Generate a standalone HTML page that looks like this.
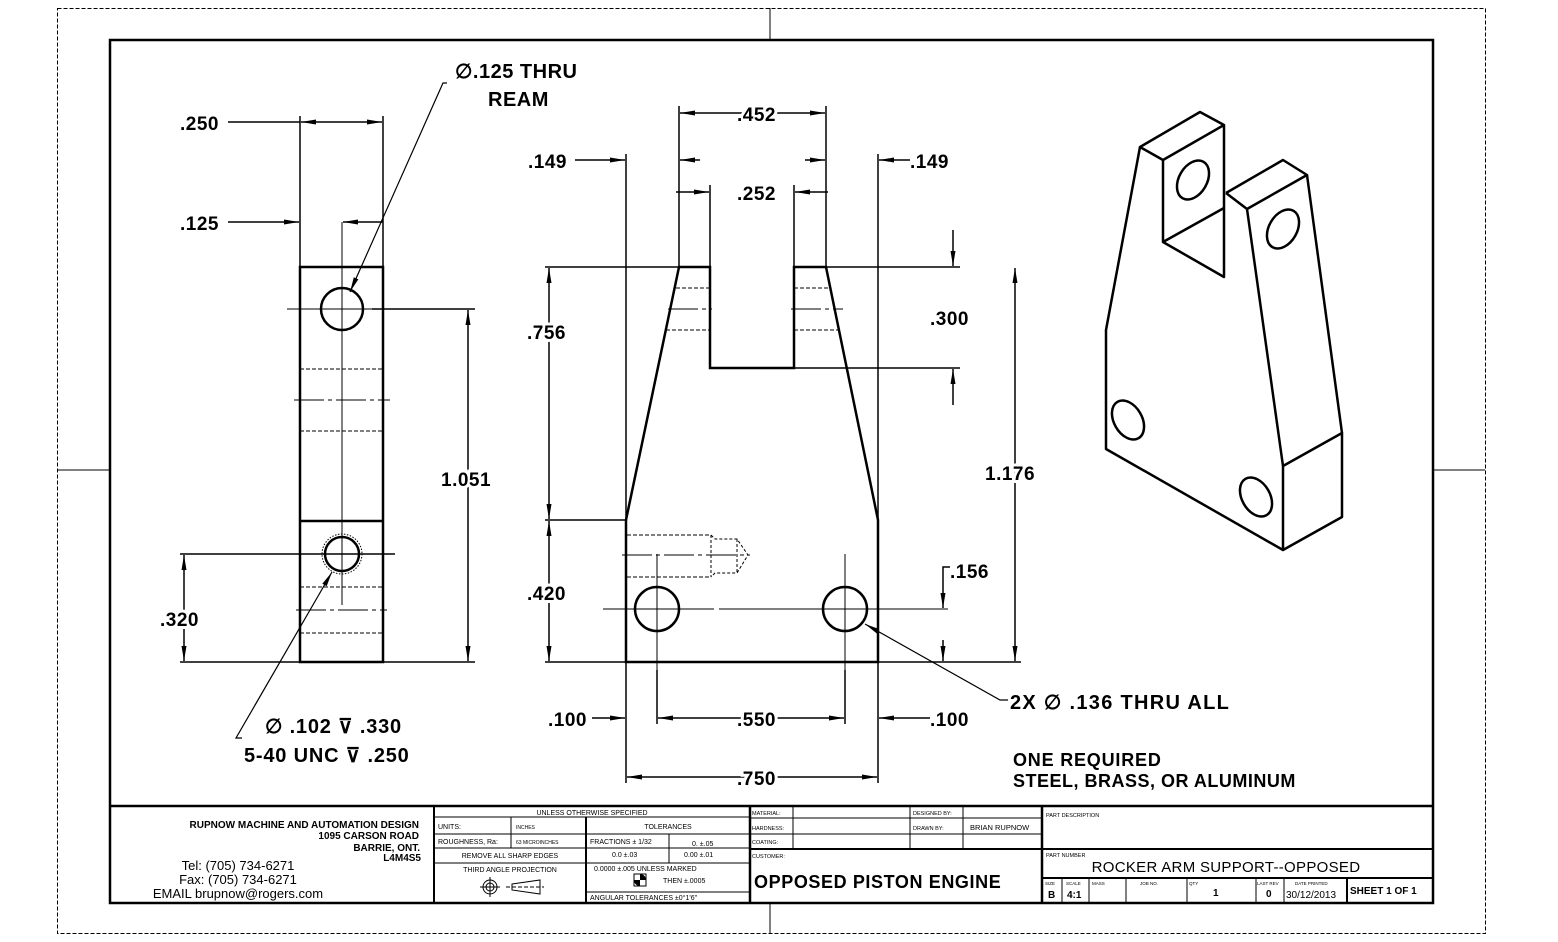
<!DOCTYPE html>
<html><head><meta charset="utf-8"><style>
html,body{margin:0;padding:0;background:#fff;}
svg{display:block;}
text{font-family:"Liberation Sans",sans-serif;fill:#000;}
.d{font-size:19px;font-weight:bold;stroke:#fff;stroke-width:6px;paint-order:stroke;letter-spacing:0.5px;}
.s{font-size:6px;}
</style></head><body>
<svg width="1558" height="942" viewBox="0 0 1558 942" xmlns="http://www.w3.org/2000/svg">
<defs>
<marker id="a" markerWidth="16" markerHeight="8" refX="15" refY="4" orient="auto-start-reverse" markerUnits="userSpaceOnUse">
<path d="M0,1.5 L15,4 L0,6.5 Z" fill="#000"/>
</marker>
</defs>
<rect width="1558" height="942" fill="#fff"/>
<!-- outer border -->
<rect x="57.5" y="8.5" width="1428" height="925" fill="none" stroke="#000" stroke-width="1" stroke-dasharray="4,2"/>
<g stroke="#000" stroke-width="1">
<line x1="770" y1="8" x2="770" y2="40"/><line x1="770" y1="903" x2="770" y2="933"/>
<line x1="57" y1="470" x2="110" y2="470"/><line x1="1433" y1="470" x2="1485" y2="470"/>
</g>
<rect x="110" y="40" width="1323" height="863" fill="none" stroke="#000" stroke-width="2.5"/>

<!-- LEFT VIEW -->
<g stroke="#000" fill="none">
<rect x="300" y="267" width="83" height="395" stroke-width="2.5"/>
<line x1="300" y1="521" x2="383" y2="521" stroke-width="2.5"/>
<circle cx="342" cy="309" r="21" stroke-width="2.5"/>
<circle cx="342" cy="554" r="17" stroke-width="2.5"/>
<circle cx="342" cy="554" r="20" stroke-width="1" stroke-dasharray="1.5,1.5"/>
<g stroke-width="1">
<line x1="342" y1="222" x2="342" y2="605"/>
<line x1="287" y1="309" x2="396" y2="309"/>
<line x1="300" y1="369" x2="383" y2="369" stroke-dasharray="4,2"/>
<line x1="294" y1="400" x2="390" y2="400" stroke-dasharray="30,4,4,4"/>
<line x1="300" y1="431" x2="383" y2="431" stroke-dasharray="4,2"/>
<line x1="300" y1="587" x2="383" y2="587" stroke-dasharray="4,2"/>
<line x1="296" y1="610" x2="387" y2="610" stroke-dasharray="30,4,4,4"/>
<line x1="300" y1="633" x2="383" y2="633" stroke-dasharray="4,2"/>
</g>
<g stroke-width="1.5">
<line x1="300" y1="116" x2="300" y2="267"/>
<line x1="383" y1="116" x2="383" y2="267"/>
<line x1="228" y1="122" x2="300" y2="122"/>
<line x1="301" y1="122" x2="382" y2="122" marker-start="url(#a)" marker-end="url(#a)"/>
<line x1="228" y1="222" x2="299" y2="222" marker-end="url(#a)"/>
<line x1="383" y1="222" x2="343" y2="222" marker-end="url(#a)"/>
<line x1="372" y1="309" x2="475" y2="309"/>
<line x1="383" y1="662" x2="475" y2="662"/>
<line x1="468" y1="310" x2="468" y2="661" marker-start="url(#a)" marker-end="url(#a)"/>
<line x1="180" y1="554" x2="395" y2="554"/>
<line x1="180" y1="662" x2="300" y2="662"/>
<line x1="184" y1="555" x2="184" y2="661" marker-start="url(#a)" marker-end="url(#a)"/>
<polyline points="447,83 443,83 350,292" stroke-width="1.2" marker-end="url(#a)"/>
<polyline points="242,738 236,738 332,572" stroke-width="1.2" marker-end="url(#a)"/>
</g>
</g>
<text class="d" x="180" y="130">.250</text>
<text class="d" x="180" y="230">.125</text>
<text class="d" x="441" y="486">1.051</text>
<text class="d" x="160" y="626">.320</text>
<text x="455" y="78" style="font-size:20px;font-weight:bold;letter-spacing:0.5px">∅.125 THRU</text>
<text x="488" y="106" style="font-size:20px;font-weight:bold;letter-spacing:0.5px">REAM</text>
<text x="265" y="733" style="font-size:20px;font-weight:bold;letter-spacing:0.8px">∅ .102 ⊽ .330</text>
<text x="244" y="762" style="font-size:20px;font-weight:bold;letter-spacing:0.8px">5-40 UNC ⊽ .250</text>

<!-- FRONT VIEW -->
<g stroke="#000" fill="none">
<polyline points="626,520 626,662 878,662 878,520 826,267 794,267 794,368 710,368 710,267 679,267 626,520" stroke-width="2.5"/>
<circle cx="657" cy="609" r="22" stroke-width="2.5"/>
<circle cx="845" cy="609" r="22" stroke-width="2.5"/>
<g stroke-width="1">
<line x1="676" y1="288" x2="710" y2="288" stroke-dasharray="4,2"/>
<line x1="668" y1="309" x2="712" y2="309" stroke-dasharray="30,4,4,4"/>
<line x1="666" y1="330" x2="710" y2="330" stroke-dasharray="4,2"/>
<line x1="794" y1="288" x2="830" y2="288" stroke-dasharray="4,2"/>
<line x1="791" y1="309" x2="843" y2="309" stroke-dasharray="30,4,4,4"/>
<line x1="794" y1="330" x2="840" y2="330" stroke-dasharray="4,2"/>
<line x1="627" y1="535" x2="711" y2="535" stroke-dasharray="4,2"/>
<line x1="627" y1="577" x2="711" y2="577" stroke-dasharray="4,2"/>
<polyline points="711,535 715,539 737,539 748,555 737,573 715,573 711,577" stroke-dasharray="3,2"/>
<line x1="711" y1="535" x2="711" y2="577" stroke-dasharray="3,2"/>
<line x1="737" y1="539" x2="737" y2="573" stroke-dasharray="3,2"/>
<line x1="622" y1="555" x2="750" y2="555" stroke-dasharray="30,4,4,4"/>
<line x1="603" y1="609" x2="714" y2="609"/>
<line x1="719" y1="609" x2="948" y2="609"/>
<line x1="657" y1="554" x2="657" y2="670"/>
<line x1="845" y1="554" x2="845" y2="670"/>
</g>
<g stroke-width="1.5">
<line x1="679" y1="106" x2="679" y2="267"/>
<line x1="826" y1="106" x2="826" y2="267"/>
<line x1="710" y1="185" x2="710" y2="267"/>
<line x1="794" y1="185" x2="794" y2="267"/>
<line x1="626" y1="154" x2="626" y2="520"/>
<line x1="878" y1="154" x2="878" y2="520"/>
<line x1="680" y1="113" x2="825" y2="113" marker-start="url(#a)" marker-end="url(#a)"/>
<line x1="676" y1="192" x2="709" y2="192" marker-end="url(#a)"/>
<line x1="828" y1="192" x2="795" y2="192" marker-end="url(#a)"/>
<line x1="575" y1="160" x2="625" y2="160" marker-end="url(#a)"/>
<line x1="700" y1="160" x2="680" y2="160" marker-end="url(#a)"/>
<line x1="805" y1="160" x2="825" y2="160" marker-end="url(#a)"/>
<line x1="910" y1="160" x2="879" y2="160" marker-end="url(#a)"/>
<line x1="545" y1="267" x2="679" y2="267"/>
<line x1="545" y1="520" x2="626" y2="520"/>
<line x1="545" y1="662" x2="626" y2="662"/>
<line x1="549" y1="268" x2="549" y2="519" marker-start="url(#a)" marker-end="url(#a)"/>
<line x1="549" y1="521" x2="549" y2="661" marker-start="url(#a)" marker-end="url(#a)"/>
<line x1="826" y1="267" x2="960" y2="267"/>
<line x1="794" y1="368" x2="960" y2="368"/>
<line x1="953" y1="230" x2="953" y2="266" marker-end="url(#a)"/>
<line x1="953" y1="405" x2="953" y2="369" marker-end="url(#a)"/>
<line x1="878" y1="662" x2="1021" y2="662"/>
<line x1="1015" y1="268" x2="1015" y2="661" marker-start="url(#a)" marker-end="url(#a)"/>
<polyline points="950,567 943,567 943,608" marker-end="url(#a)"/>
<line x1="943" y1="640" x2="943" y2="661" marker-end="url(#a)"/>
<line x1="626" y1="662" x2="626" y2="783"/>
<line x1="878" y1="662" x2="878" y2="783"/>
<line x1="657" y1="670" x2="657" y2="724"/>
<line x1="845" y1="670" x2="845" y2="724"/>
<line x1="592" y1="718" x2="625" y2="718" marker-end="url(#a)"/>
<line x1="658" y1="718" x2="844" y2="718" marker-start="url(#a)" marker-end="url(#a)"/>
<line x1="930" y1="718" x2="879" y2="718" marker-end="url(#a)"/>
<line x1="627" y1="777" x2="877" y2="777" marker-start="url(#a)" marker-end="url(#a)"/>
<polyline points="1008,700 1000,700 865,624" stroke-width="1.2" marker-end="url(#a)"/>
</g>
</g>
<text class="d" x="737" y="121">.452</text>
<text class="d" x="737" y="200">.252</text>
<text class="d" x="528" y="168">.149</text>
<text class="d" x="910" y="168">.149</text>
<text class="d" x="527" y="339">.756</text>
<text class="d" x="527" y="600">.420</text>
<text class="d" x="930" y="325">.300</text>
<text class="d" x="985" y="480">1.176</text>
<text class="d" x="950" y="578">.156</text>
<text class="d" x="548" y="726">.100</text>
<text class="d" x="737" y="726">.550</text>
<text class="d" x="930" y="726">.100</text>
<text class="d" x="737" y="785">.750</text>
<text x="1010" y="709" style="font-size:20px;font-weight:bold;letter-spacing:1.3px">2X ∅ .136 THRU ALL</text>
<text x="1013" y="766" style="font-size:18px;font-weight:bold;letter-spacing:0.8px">ONE REQUIRED</text>
<text x="1013" y="787" style="font-size:18px;font-weight:bold;letter-spacing:0.5px">STEEL, BRASS, OR ALUMINUM</text>

<!-- ISO VIEW -->
<g stroke="#000" stroke-width="2.5" fill="none" stroke-linejoin="round">
<polyline points="1163,160 1140,147 1200,112 1224,125 1163,160 1163,242 1224,277 1224,125"/>
<line x1="1163" y1="242" x2="1224" y2="208"/>
<polyline points="1140,147 1106,330 1106,449 1283,550 1342,517 1342,433 1283,466 1283,550"/>
<polyline points="1226,193 1283,160 1307,175 1247,209 1226,193"/>
<line x1="1247" y1="209" x2="1283" y2="466"/>
<line x1="1307" y1="175" x2="1342" y2="433"/>
<ellipse cx="1193" cy="180" rx="14" ry="21" transform="rotate(30 1193 180)"/>
<ellipse cx="1283" cy="229" rx="14" ry="21" transform="rotate(30 1283 229)"/>
<ellipse cx="1128" cy="420" rx="14" ry="21" transform="rotate(-30 1128 420)"/>
<ellipse cx="1256" cy="497" rx="14" ry="21" transform="rotate(-30 1256 497)"/>
</g>

<!-- TITLE BLOCK -->
<g stroke="#000" fill="none">
<line x1="110" y1="806" x2="1433" y2="806" stroke-width="2.5"/>
<line x1="434" y1="806" x2="434" y2="903" stroke-width="2"/>
<line x1="750" y1="806" x2="750" y2="903" stroke-width="2.5"/>
<line x1="1042" y1="806" x2="1042" y2="903" stroke-width="2.5"/>
<g stroke-width="1">
<line x1="434" y1="817" x2="750" y2="817"/>
<line x1="434" y1="834" x2="750" y2="834"/>
<line x1="434" y1="848" x2="750" y2="848"/>
<line x1="434" y1="863" x2="586" y2="863"/>
<line x1="586" y1="863" x2="750" y2="863"/>
<line x1="586" y1="892" x2="750" y2="892"/>
<line x1="511" y1="817" x2="511" y2="848"/>
<line x1="586" y1="817" x2="586" y2="903" stroke-width="2"/>
<line x1="669" y1="834" x2="669" y2="863"/>
<line x1="750" y1="818" x2="1042" y2="818"/>
<line x1="750" y1="834" x2="1042" y2="834"/>
<line x1="750" y1="849" x2="1042" y2="849" stroke-width="2"/>
<line x1="793" y1="806" x2="793" y2="849"/>
<line x1="910" y1="806" x2="910" y2="849"/>
<line x1="963" y1="806" x2="963" y2="849"/>
<line x1="1042" y1="849" x2="1433" y2="849" stroke-width="2"/>
<line x1="1042" y1="878" x2="1433" y2="878" stroke-width="2"/>
<line x1="1062" y1="878" x2="1062" y2="903"/>
<line x1="1089" y1="878" x2="1089" y2="903"/>
<line x1="1126" y1="878" x2="1126" y2="903"/>
<line x1="1187" y1="878" x2="1187" y2="903"/>
<line x1="1256" y1="878" x2="1256" y2="903"/>
<line x1="1284" y1="878" x2="1284" y2="903"/>
<line x1="1347" y1="878" x2="1347" y2="903" stroke-width="2"/>
</g>
<circle cx="490" cy="887" r="7" stroke-width="1"/><circle cx="490" cy="887" r="4" stroke-width="1"/>
<line x1="480" y1="887" x2="500" y2="887" stroke-width="1"/><line x1="490" y1="877" x2="490" y2="897" stroke-width="1"/>
<polygon points="512,884 540,880 540,894 512,890" stroke-width="1"/>
<line x1="506" y1="887" x2="544" y2="887" stroke-width="1" stroke-dasharray="4,2"/>
<rect x="634" y="874" width="12" height="12" stroke-width="1"/>
<path d="M640,874 A6,6 0 0 1 646,880 L640,880 Z M634,880 L640,880 L640,886 A6,6 0 0 1 634,880 Z" fill="#000" stroke="none"/>
</g>
<g style="font-weight:bold;font-size:10px" text-anchor="end">
<text x="419" y="828">RUPNOW MACHINE AND AUTOMATION DESIGN</text>
<text x="419" y="839">1095 CARSON ROAD</text>
<text x="420" y="851">BARRIE, ONT.</text>
<text x="421" y="861">L4M4S5</text>
</g>
<g style="font-size:13px" text-anchor="middle">
<text x="238" y="870">Tel: (705) 734-6271</text>
<text x="238" y="884">Fax: (705) 734-6271</text>
<text x="238" y="898">EMAIL brupnow@rogers.com</text>
</g>
<g style="font-size:7px">
<text x="592" y="815" text-anchor="middle">UNLESS OTHERWISE SPECIFIED</text>
<text x="438" y="829">UNITS:</text>
<text x="516" y="829" style="font-size:5px">INCHES</text>
<text x="438" y="844">ROUGHNESS, Ra:</text>
<text x="516" y="844" style="font-size:5px">63 MICROINCHES</text>
<text x="510" y="858" text-anchor="middle">REMOVE ALL SHARP EDGES</text>
<text x="510" y="872" text-anchor="middle">THIRD ANGLE PROJECTION</text>
<text x="668" y="829" text-anchor="middle">TOLERANCES</text>
<text x="590" y="844">FRACTIONS ± 1/32</text>
<text x="692" y="846">0.    ±.05</text>
<text x="612" y="857">0.0   ±.03</text>
<text x="684" y="857">0.00   ±.01</text>
<text x="594" y="871">0.0000   ±.005 UNLESS MARKED</text>
<text x="663" y="883">THEN  ±.0005</text>
<text x="590" y="900">ANGULAR TOLERANCES     ±0°1'6"</text>
<text x="752" y="815" style="font-size:5.5px">MATERIAL:</text>
<text x="752" y="830" style="font-size:5.5px">HARDNESS:</text>
<text x="752" y="844" style="font-size:5.5px">COATING:</text>
<text x="913" y="815" style="font-size:5.5px">DESIGNED BY:</text>
<text x="913" y="830" style="font-size:5.5px">DRAWN BY:</text>
<text x="970" y="830" style="font-size:7.5px">BRIAN RUPNOW</text>
<text x="752" y="858" style="font-size:5.5px">CUSTOMER:</text>
<text x="1046" y="817" style="font-size:5.5px">PART DESCRIPTION</text>
<text x="1046" y="857" style="font-size:5.5px">PART NUMBER</text>
<text x="1045" y="885" style="font-size:4.5px">SIZE</text>
<text x="1066" y="885" style="font-size:4.5px">SCALE</text>
<text x="1092" y="885" style="font-size:4.5px">MASS</text>
<text x="1140" y="885" style="font-size:4.5px">JOB NO.</text>
<text x="1189" y="885" style="font-size:4.5px">QTY</text>
<text x="1257" y="885" style="font-size:4.5px">LAST REV</text>
<text x="1295" y="885" style="font-size:4.5px">DATE PRINTED</text>
</g>
<text x="754" y="888" style="font-size:18px;font-weight:bold;letter-spacing:0.6px">OPPOSED PISTON ENGINE</text>
<text x="1226" y="872" text-anchor="middle" style="font-size:15px;letter-spacing:0.3px">ROCKER ARM SUPPORT--OPPOSED</text>
<g style="font-size:10px;font-weight:bold">
<text x="1048" y="898">B</text>
<text x="1067" y="898">4:1</text>
<text x="1213" y="896">1</text>
<text x="1266" y="897">0</text>
<text x="1350" y="894">SHEET 1 OF 1</text>
</g>
<text x="1286" y="898" style="font-size:10px">30/12/2013</text>
</svg>
</body></html>
